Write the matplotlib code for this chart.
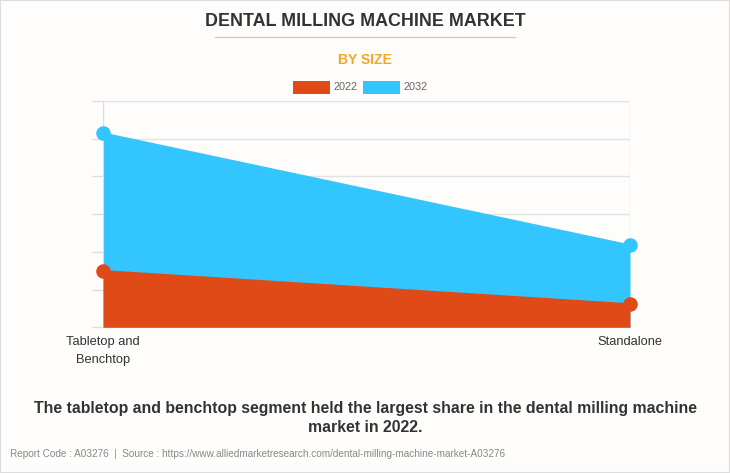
import matplotlib
matplotlib.use("Agg")
import matplotlib.pyplot as plt
from matplotlib.patches import Rectangle
from matplotlib.lines import Line2D

categories = ["Tabletop and\nBenchtop", "Standalone"]
series_names = ["2022", "2032"]
values_2022 = [1.49, 0.61]
values_2032 = [5.14, 2.17]
colors = {"2022": "#e04a16", "2032": "#33c5fd"}

plt.rcParams['font.family'] = ['Liberation Sans', 'DejaVu Sans']

W, H = 730, 473
fig = plt.figure(figsize=(W / 100, H / 100), dpi=100, facecolor="#fefdfc")
fig.patches.append(Rectangle((0, 0), 1, 1, transform=fig.transFigure, fill=False,
                             edgecolor="#dddddd", linewidth=1.5))

ax = fig.add_axes([103 / W, 1 - 327.3 / H, (630 - 103) / W, (327.3 - 101) / H])
ax.set_facecolor("#fefdfc")
x = list(range(len(categories)))

ax.fill_between(x, 0, values_2032, color=colors["2032"], linewidth=0, zorder=2)
ax.plot(x, values_2032, color=colors["2032"], linewidth=1.5, zorder=3)
ax.scatter(x, values_2032, s=110, color=colors["2032"], zorder=4, clip_on=False, linewidths=0)
ax.fill_between(x, 0, values_2022, color=colors["2022"], linewidth=0, zorder=5)
ax.plot(x, values_2022, color=colors["2022"], linewidth=1.5, zorder=6)
ax.scatter(x, values_2022, s=110, color=colors["2022"], zorder=7, clip_on=False, linewidths=0)

ax.set_xlim(0, 1)
ax.set_ylim(0, 6)
ax.set_yticks(range(0, 7))
ax.set_yticklabels([])
ax.tick_params(axis='y', length=8, color="#dddddd", width=1)
ax.set_xticks(x)
ax.set_xticklabels(categories, fontsize=9.3, color="#333333", linespacing=1.7)
ax.tick_params(axis='x', length=0, pad=6)
ax.grid(True, axis='both', color="#e3e3e3", linewidth=1, zorder=0)
ax.set_axisbelow(True)
for s in ["top", "right"]:
    ax.spines[s].set_visible(False)
ax.spines["left"].set_color("#dddddd")
ax.spines["bottom"].set_color("#e3e3e3")

# Titles
fig.text(365 / W, 1 - 21.5 / H, "DENTAL MILLING MACHINE MARKET", ha="center", va="center",
         fontsize=12.9, fontweight="bold", color="#333333")
fig.add_artist(Line2D([215 / W, 515 / W], [1 - 37.3 / H, 1 - 37.3 / H], color="#cccccc", linewidth=1))
fig.text(365 / W, 1 - 59.5 / H, "BY SIZE", ha="center", va="center",
         fontsize=10.1, fontweight="bold", color="#f5a623")

# Legend
for i, name in enumerate(series_names):
    x0 = [293, 363][i]
    fig.patches.append(Rectangle((x0 / W, 1 - 93.7 / H), 37 / W, 12.7 / H, transform=fig.transFigure,
                                 facecolor=colors[name], edgecolor="none"))
    fig.text((x0 + 41) / W, 1 - 87 / H, name, ha="left", va="center", fontsize=7.8, color="#666666")

# Caption
fig.text(0.5, 1 - 418 / H,
         "The tabletop and benchtop segment held the largest share in the dental milling machine\nmarket in 2022.",
         ha="center", va="center", fontsize=11.45, fontweight="bold", color="#333333", linespacing=1.38)
fig.text(10 / W, 1 - 454 / H,
         "Report Code : A03276  |  Source : https://www.alliedmarketresearch.com/dental-milling-machine-market-A03276",
         ha="left", va="center", fontsize=7.2, color="#888888")

fig.savefig("out.png", dpi=100, facecolor=fig.get_facecolor())
